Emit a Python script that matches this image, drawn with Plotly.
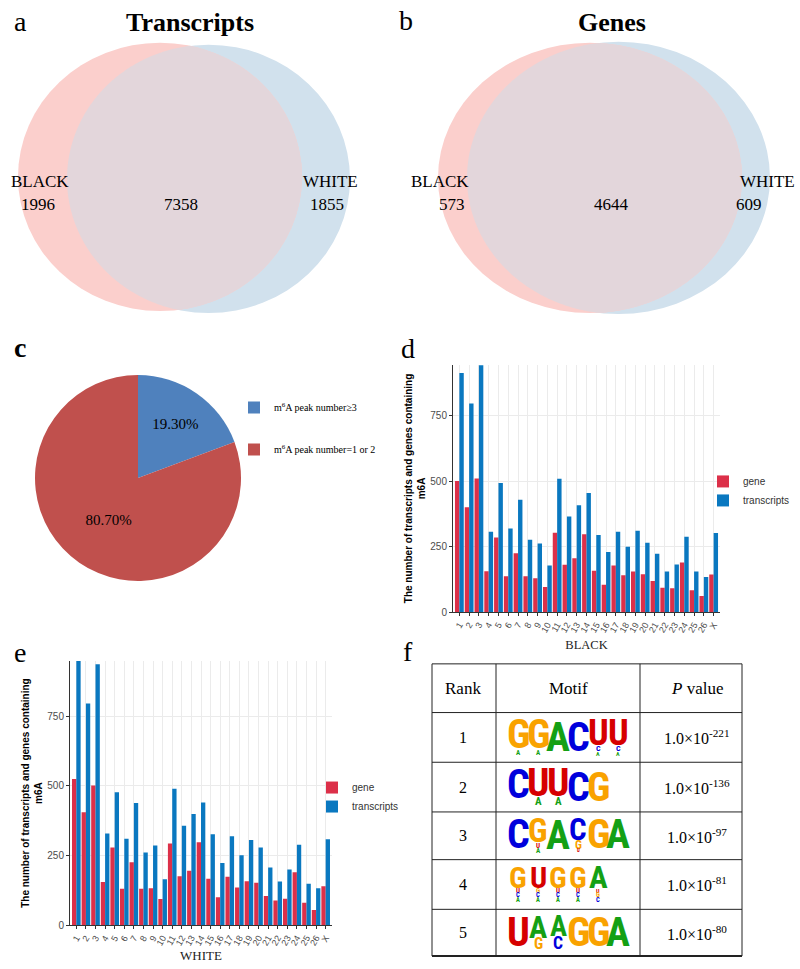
import numpy as np
import plotly.graph_objects as go

W, H = 800, 969
SERIF = "Liberation Serif, Times New Roman, serif"
SANS = "Liberation Sans, Arial, sans-serif"
LOGO = "Noto Sans ExtraCondensed, Noto Sans Condensed, Roboto Condensed, Open Sans Condensed, Liberation Sans, sans-serif"

# ---------------- data ----------------
venn_groups = ["BLACK", "WHITE"]
transcripts_counts = [1996, 7358, 1855]   # BLACK only, shared, WHITE only
genes_counts = [573, 4644, 609]

pie_labels = ["m<sup>6</sup>A peak number≥3", "m<sup>6</sup>A peak number=1 or 2"]
pie_values = [19.30, 80.70]
pie_text = ["19.30%", "80.70%"]

chromosomes = [str(i) for i in range(1, 27)] + ["X"]
black_gene = [501, 401, 511, 156, 285, 137, 225, 137, 130, 96, 303, 181, 206, 298,
              158, 105, 178, 141, 155, 145, 119, 93, 91, 190, 84, 62, 144]
black_transcripts = [913, 797, 943, 307, 493, 320, 429, 277, 262, 178, 510, 365, 408, 455,
                     295, 230, 307, 250, 311, 265, 223, 155, 182, 288, 155, 134, 302]
white_gene = [524, 405, 501, 155, 279, 131, 226, 131, 133, 94, 293, 176, 195, 298,
              167, 100, 174, 135, 158, 152, 105, 89, 95, 190, 81, 55, 140]
white_transcripts = [948, 795, 936, 329, 477, 310, 438, 261, 286, 165, 489, 357, 399, 440,
                     326, 223, 319, 251, 306, 279, 207, 157, 200, 289, 149, 133, 308]

table_header = ["Rank", "Motif", "<i>P</i> value"]
motif_ranks = [1, 2, 3, 4, 5]
motif_p_mantissa = ["1.0", "1.0", "1.0", "1.0", "1.0"]
motif_p_exponent = [-221, -136, -97, -81, -80]
# sequence-logo columns: (letter, share of column height), top to bottom
motif_stacks = [
    [[("G", .86), ("A", .14)], [("G", .86), ("A", .14)], [("A", 1.0)], [("C", 1.0)],
     [("U", .72), ("C", .16), ("A", .12)], [("U", .72), ("C", .16), ("A", .12)]],
    [[("C", .88), ("U", .06), ("A", .06)], [("U", .78), ("A", .22)], [("U", .78), ("A", .22)],
     [("C", 1.0)], [("G", 1.0)]],
    [[("C", .9), ("U", .05), ("G", .05)], [("G", .7), ("U", .15), ("A", .15)], [("A", 1.0)],
     [("C", .65), ("G", .25), ("U", .10)], [("G", .92), ("A", .08)], [("A", .94), ("G", .06)]],
    [[("G", .6), ("U", .14), ("C", .13), ("A", .13)], [("U", .6), ("G", .14), ("C", .13), ("A", .13)],
     [("G", .6), ("U", .14), ("C", .13), ("A", .13)], [("G", .6), ("U", .14), ("C", .13), ("A", .13)],
     [("A", .62), ("U", .12), ("G", .13), ("C", .13)]],
    [[("U", 1.0)], [("A", .66), ("G", .34)], [("A", .62), ("C", .38)], [("G", 1.0)],
     [("G", 1.0)], [("A", 1.0)]],
]

# ---------------- styles ----------------
PINK, BLUE, OVERLAP = "#FBCFCC", "#D1E1ED", "#E3D6DB"
PIE_COLORS = ["#4F81BD", "#C0504D"]
GENE_COLOR, TX_COLOR = "#DC3049", "#0A78C0"
NT_COLORS = {"A": "#14A014", "C": "#0000DC", "G": "#F9A200", "U": "#D60000"}


def px(x):
    return x / W


def py(y):
    return 1 - y / H


fig = go.Figure()


def label(x, y, text, size, family=SERIF, color="black", weight="normal",
          xanchor="center", yanchor="middle"):
    fig.add_annotation(x=px(x), y=py(y), xref="paper", yref="paper", text=text,
                       showarrow=False, xanchor=xanchor, yanchor=yanchor, borderpad=0,
                       font=dict(family=family, size=size, color=color, weight=weight))


# ---------------- Venn diagrams (a, b) ----------------
def ellipse_pts(cx, cy, rx, ry, n=480):
    t = np.linspace(0, 2 * np.pi, n, endpoint=False)
    return cx + rx * np.cos(t), cy + ry * np.sin(t)


def inside(x, y, e):
    cx, cy, rx, ry = e
    return ((x - cx) / rx) ** 2 + ((y - cy) / ry) ** 2 <= 1.0


def box_to_ellipse(b):
    x0, y0, x1, y1 = b
    return ((x0 + x1) / 2, (y0 + y1) / 2, (x1 - x0) / 2, (y1 - y0) / 2)


venn_panels = [
    dict(left=(18, 43, 302, 313), right=(67, 45, 350, 315), counts=transcripts_counts,
         title="Transcripts", title_xy=(190, 23),
         name_xy=[(40, 183), (330, 183)], count_xy=[(38, 206), (181, 206), (327, 206)]),
    dict(left=(438, 43, 742, 315), right=(467, 42, 770, 316), counts=genes_counts,
         title="Genes", title_xy=(612, 23),
         name_xy=[(440, 183), (767, 183)], count_xy=[(452, 206), (611, 206), (749, 206)]),
]

for pnl in venn_panels:
    for box, col in ((pnl["right"], BLUE), (pnl["left"], PINK)):
        x0, y0, x1, y1 = box
        fig.add_shape(type="circle", xref="paper", yref="paper",
                      x0=px(x0), x1=px(x1), y0=py(y1), y1=py(y0),
                      fillcolor=col, line=dict(width=0), layer="below")
    e1, e2 = box_to_ellipse(pnl["left"]), box_to_ellipse(pnl["right"])
    x1s, y1s = ellipse_pts(*e1)
    m1 = inside(x1s, y1s, e2)
    x2s, y2s = ellipse_pts(*e2)
    m2 = inside(x2s, y2s, e1)
    xs = np.concatenate([x1s[m1], x2s[m2]])
    ys = np.concatenate([y1s[m1], y2s[m2]])
    order = np.argsort(np.arctan2(ys - ys.mean(), xs - xs.mean()))
    pts = [f"{px(a):.5f},{py(b):.5f}" for a, b in zip(xs[order], ys[order])]
    fig.add_shape(type="path", xref="paper", yref="paper", path="M " + " L ".join(pts) + " Z",
                  fillcolor=OVERLAP, line=dict(width=0), layer="below")
    label(*pnl["title_xy"], pnl["title"], 26, weight="bold")
    for (x, y), g in zip(pnl["name_xy"], venn_groups):
        label(x, y, g, 17)
    for (x, y), c in zip(pnl["count_xy"], pnl["counts"]):
        label(x, y, str(c), 17)

# ---------------- Pie (c) ----------------
fig.add_trace(go.Pie(
    labels=[lab + "<br> <br> " for lab in pie_labels], values=pie_values, text=pie_text, textinfo="text",
    textposition="inside", insidetextorientation="horizontal",
    textfont=dict(family=SERIF, size=15, color="black"),
    marker=dict(colors=PIE_COLORS, line=dict(width=0)),
    sort=False, direction="clockwise", rotation=0,
    domain=dict(x=[px(35), px(241)], y=[py(585), py(377)]),
    legend="legend", hoverinfo="percent",
))

# ---------------- Bars (d, e) ----------------
for xa, ya, leg, g, t in (("x", "y", "legend2", black_gene, black_transcripts),
                          ("x2", "y2", "legend3", white_gene, white_transcripts)):
    fig.add_trace(go.Bar(x=chromosomes, y=g, name="gene", marker=dict(color=GENE_COLOR, line=dict(width=0)),
                         xaxis=xa, yaxis=ya, legend=leg))
    fig.add_trace(go.Bar(x=chromosomes, y=t, name="transcripts", marker=dict(color=TX_COLOR, line=dict(width=0)),
                         xaxis=xa, yaxis=ya, legend=leg))

common = dict(showline=True, linecolor="#333333", linewidth=1, ticks="outside", ticklen=3,
              tickcolor="#333333", gridcolor="#EBEBEB", gridwidth=1, zeroline=False)
ytitle = "The number of transcripts and genes containing<br>m6A"
xcommon = dict(common, type="category", categoryorder="array", categoryarray=chromosomes,
               tickmode="array", tickvals=chromosomes, ticktext=chromosomes,
               tickangle=-60, tickfont=dict(family=SANS, size=9, color="#4D4D4D"))
ycommon = dict(common, tickvals=[0, 250, 500, 750],
               tickfont=dict(family=SANS, size=10, color="#4D4D4D"))

fig.update_layout(
    xaxis=dict(xcommon, domain=[px(453), px(720)], anchor="y", range=[-0.65, 26.65],
               title=dict(text="BLACK", font=dict(family=SERIF, size=12.5, color="#222"), standoff=6)),
    yaxis=dict(ycommon, domain=[py(616), py(367)], anchor="x", range=[0, 945],
               title=dict(text=ytitle, font=dict(family=SANS, size=10, color="black", weight="bold"), standoff=2)),
    xaxis2=dict(xcommon, domain=[px(70), px(332)], anchor="y2", range=[-0.66, 26.66],
                title=dict(text="WHITE", font=dict(family=SERIF, size=13, color="#222"), standoff=4)),
    yaxis2=dict(ycommon, domain=[py(931), py(665)], anchor="x2", range=[0, 948],
                title=dict(text=ytitle, font=dict(family=SANS, size=10, color="black", weight="bold"), standoff=2)),
)

# ---------------- Table with motifs (f) ----------------
row_y = [668, 717, 767, 817, 865, 915, 962]
col_x = [432, 496, 640, 742]
for i, y in enumerate(row_y):
    fig.add_shape(type="line", xref="paper", yref="paper", x0=px(col_x[0]), x1=px(col_x[-1]),
                  y0=py(y), y1=py(y), line=dict(color="#222", width=2 if i == len(row_y) - 1 else 1))
for x in col_x:
    fig.add_shape(type="line", xref="paper", yref="paper", x0=px(x), x1=px(x),
                  y0=py(row_y[0]), y1=py(row_y[-1]), line=dict(color="#222", width=1))

text_cols = [463, 568, 697]
hy = (row_y[0] + row_y[1]) / 2
for x, t in zip(text_cols, table_header):
    label(x, hy, t, 17)

for r, (rank, mant, expo, stacks) in enumerate(zip(motif_ranks, motif_p_mantissa, motif_p_exponent, motif_stacks)):
    top, bot = row_y[r + 1], row_y[r + 2]
    cy = (top + bot) / 2
    label(text_cols[0], cy, str(rank), 16)
    label(text_cols[2], cy, f"{mant}×10<sup>{expo}</sup>", 16)
    ht = (bot - top) - 14
    for c, stack in enumerate(stacks):
        xc = 518 + 20 * c
        ycur = top + 7
        for letter, frac in stack:
            h = frac * ht
            if h >= 3:
                size = min(h / 0.714, 40)
                label(xc, ycur + h / 2, letter, size, family=LOGO, color=NT_COLORS[letter], weight="bold")
            ycur += h

# ---------------- panel letters ----------------
for (x, y), t, w in (((20, 22), "a", "normal"), ((406, 21), "b", "normal"), ((20, 350), "c", "bold"),
                     ((408, 351), "d", "normal"), ((20, 657), "e", "normal"), ((408, 656), "f", "normal")):
    label(x, y, t, 28, weight=w)

fig.update_layout(
    width=W, height=H, autosize=False, margin=dict(l=0, r=0, t=0, b=0),
    paper_bgcolor="white", plot_bgcolor="white",
    barmode="group", bargap=0.1, bargroupgap=0,
    showlegend=True,
    legend=dict(x=px(234), y=py(397), xanchor="left", yanchor="top", valign="top",
                bgcolor="rgba(0,0,0,0)", font=dict(family=SERIF, size=10, color="black")),
    legend2=dict(x=px(703), y=py(494), xanchor="left", yanchor="middle", bgcolor="rgba(0,0,0,0)",
                 font=dict(family=SANS, size=10, color="#333")),
    legend3=dict(x=px(312), y=py(802), xanchor="left", yanchor="middle", bgcolor="rgba(0,0,0,0)",
                 font=dict(family=SANS, size=10, color="#333")),
)

fig.write_html("out.html", config={"displayModeBar": False},
               post_script="document.body.style.margin='0px';document.body.style.overflow='hidden';")
